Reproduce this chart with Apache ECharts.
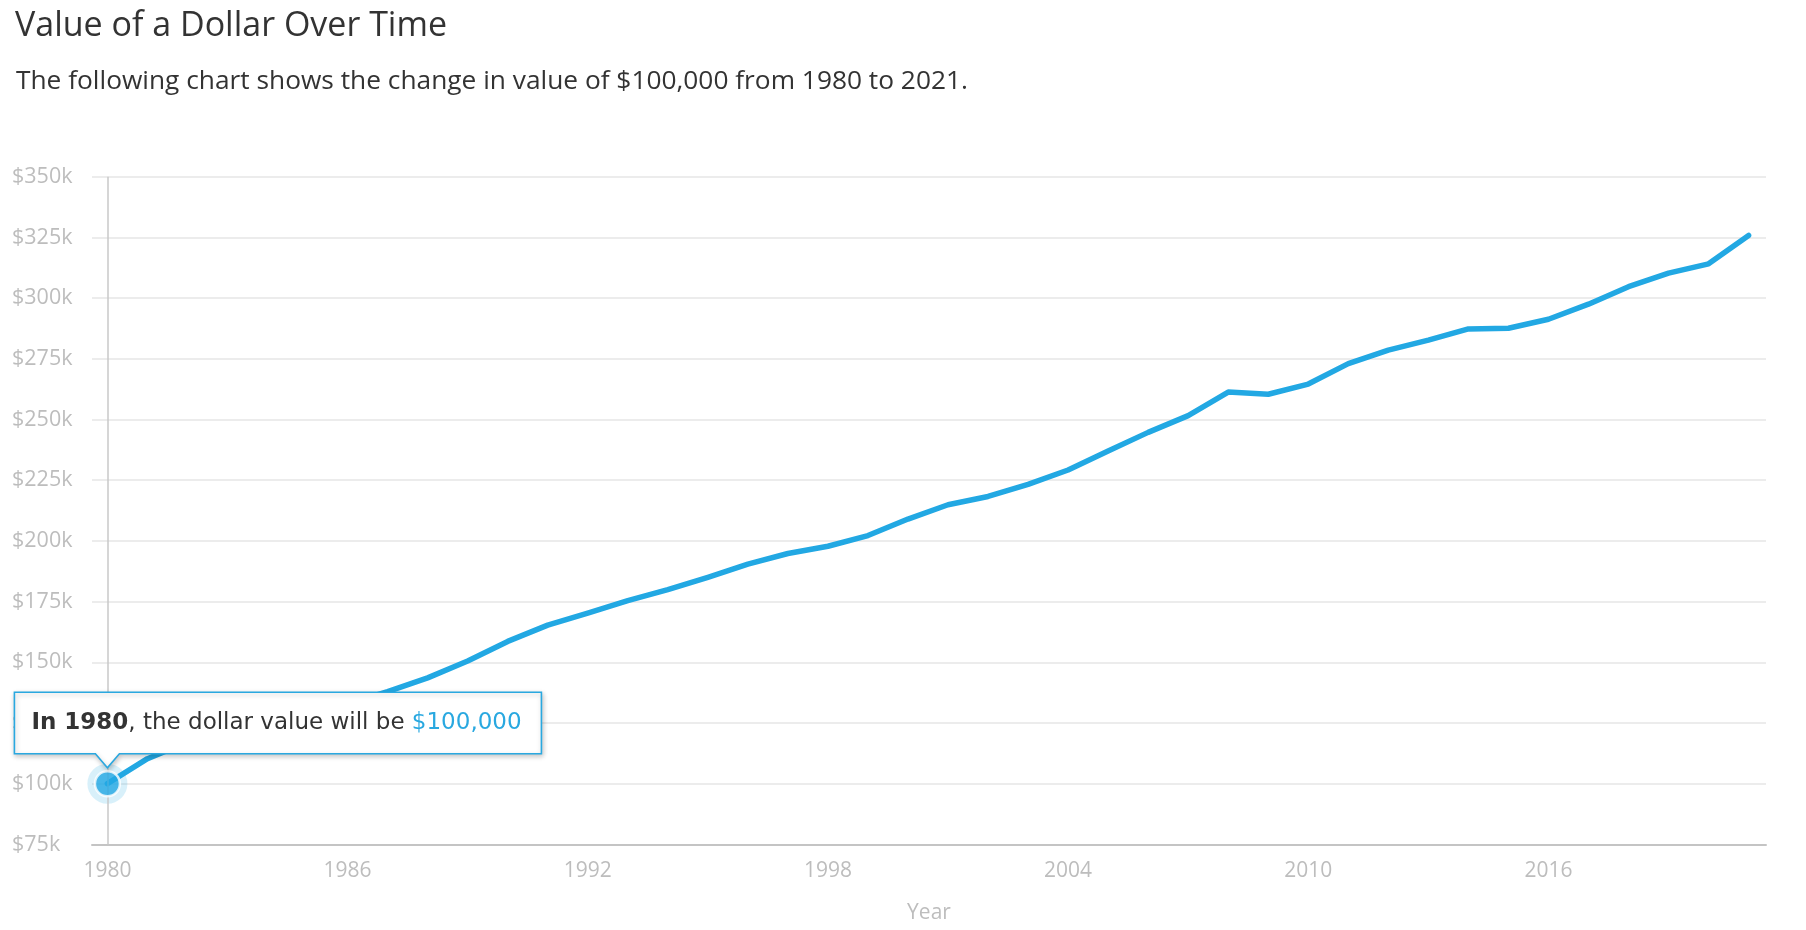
<!DOCTYPE html>
<html>
<head>
<meta charset="utf-8">
<script src="https://cdn.jsdelivr.net/npm/echarts@6/dist/echarts.min.js"></script>
<style>
html,body{margin:0;padding:0;background:#fff;}
#chart{width:1806px;height:930px;}
</style>
</head>
<body>
<div id="chart"></div>
<script>
const titleText = 'Value of a Dollar Over Time';
const subtitleText = 'The following chart shows the change in value of $100,000 from 1980 to 2021.';
const years = [1980,1981,1982,1983,1984,1985,1986,1987,1988,1989,1990,1991,1992,1993,1994,1995,1996,1997,1998,1999,2000,2001,2002,2003,2004,2005,2006,2007,2008,2009,2010,2011,2012,2013,2014,2015,2016,2017,2018,2019,2020,2021];
const values = [100000,110300,117100,120900,126100,130600,133000,137900,143600,150500,158600,165300,170300,175400,179900,185000,190400,194800,197800,202200,209000,214900,218300,223300,229200,237000,244700,251600,261300,260400,264600,273000,278600,282700,287300,287600,291300,297500,304700,310300,314100,325800];
const xTickLabels = [1980,1986,1992,1998,2004,2010,2016];
const yTicks = [75000,100000,125000,150000,175000,200000,225000,250000,275000,300000,325000,350000];
const highlightIndex = 0;

const blue = '#22a8e3';
const chart = echarts.init(document.getElementById('chart'), null, {renderer:'canvas'});
const lineData = years.map((y,i)=>[y, values[i]]);
const hp = [years[highlightIndex], values[highlightIndex]];

chart.setOption({
  animation:false,
  backgroundColor:'#fff',
  title:[
    {text:titleText,left:10,top:4,textStyle:{fontFamily:'Open Sans',fontSize:34,fontWeight:'normal',color:'#333'}},
    {text:subtitleText,left:11,top:64,textStyle:{fontFamily:'Open Sans',fontSize:26.3,fontWeight:'normal',color:'#333'}}
  ],
  grid:{left:92,right:40,top:176.7,bottom:85.6,containLabel:false},
  xAxis:{
    type:'value',
    min:1979.615,max:2021.435,
    name:'Year',nameLocation:'middle',nameGap:58,
    nameTextStyle:{fontFamily:'Open Sans',fontSize:21,color:'#bdbdbd'},
    axisLine:{show:true,lineStyle:{color:'#c4c4c4',width:2}},
    axisTick:{show:false},
    splitLine:{show:false},
    axisLabel:{customValues:xTickLabels,margin:16,fontFamily:'Open Sans',fontSize:21,color:'#bdbdbd',formatter:v=>String(v)}
  },
  yAxis:{
    type:'value',min:yTicks[0],max:yTicks[yTicks.length-1],interval:25000,
    axisLine:{show:false},axisTick:{show:false},
    splitLine:{show:true,lineStyle:{color:'#e6e6e6',width:1.5}},
    axisLabel:{align:'left',margin:80,fontFamily:'Open Sans',fontSize:21.5,color:'#bdbdbd',
      formatter:v=>'$'+(v/1000)+'k'}
  },
  series:[
    {type:'line',data:lineData,showSymbol:false,symbol:'none',
     lineStyle:{color:blue,width:5.5,cap:'round',join:'round'},
     markLine:{silent:true,symbol:['none','none'],label:{show:false},
       lineStyle:{color:'#c8c8c8',width:1.5,type:'solid'},
       data:[{xAxis:hp[0]}]},
     z:3},
    {type:'scatter',data:[hp],symbolSize:40,itemStyle:{color:'rgba(34,168,227,0.22)'},z:4,silent:true},
    {type:'scatter',data:[hp],symbolSize:25,itemStyle:{color:blue,borderColor:'#fff',borderWidth:2.5},z:5,silent:true}
  ]
});

const pt = chart.convertToPixel({xAxisIndex:0,yAxisIndex:0}, hp);
const L = pt[0]-93, R = pt[0]+434, T = pt[1]-91.5, B = pt[1]-30;
const ax = pt[0], tipY = pt[1]-16;
const fmt = n => '$' + n.toLocaleString('en-US');
chart.setOption({
  graphic:[
    {type:'polygon',z:100,
     shape:{points:[[L,T],[R,T],[R,B],[ax+12,B],[ax,tipY],[ax-12,B],[L,B]]},
     style:{fill:'#fff',stroke:'#29a8e0',lineWidth:1.6,shadowBlur:5,shadowOffsetX:1,shadowOffsetY:2,shadowColor:'rgba(0,0,0,0.22)'}},
    {type:'text',z:101,x:L+17,y:(T+B)/2,
     style:{
       text:'{b|In '+hp[0]+'}{n|, the dollar value will be }{v|'+fmt(hp[1])+'}',
       verticalAlign:'middle',
       rich:{
         b:{fontFamily:'DejaVu Sans',fontSize:23,fontWeight:'bold',fill:'#333'},
         n:{fontFamily:'DejaVu Sans',fontSize:23,fill:'#333'},
         v:{fontFamily:'DejaVu Sans',fontSize:23,fill:'#29a8e0'}
       }
     }}
  ]
});
</script>
</body>
</html>
